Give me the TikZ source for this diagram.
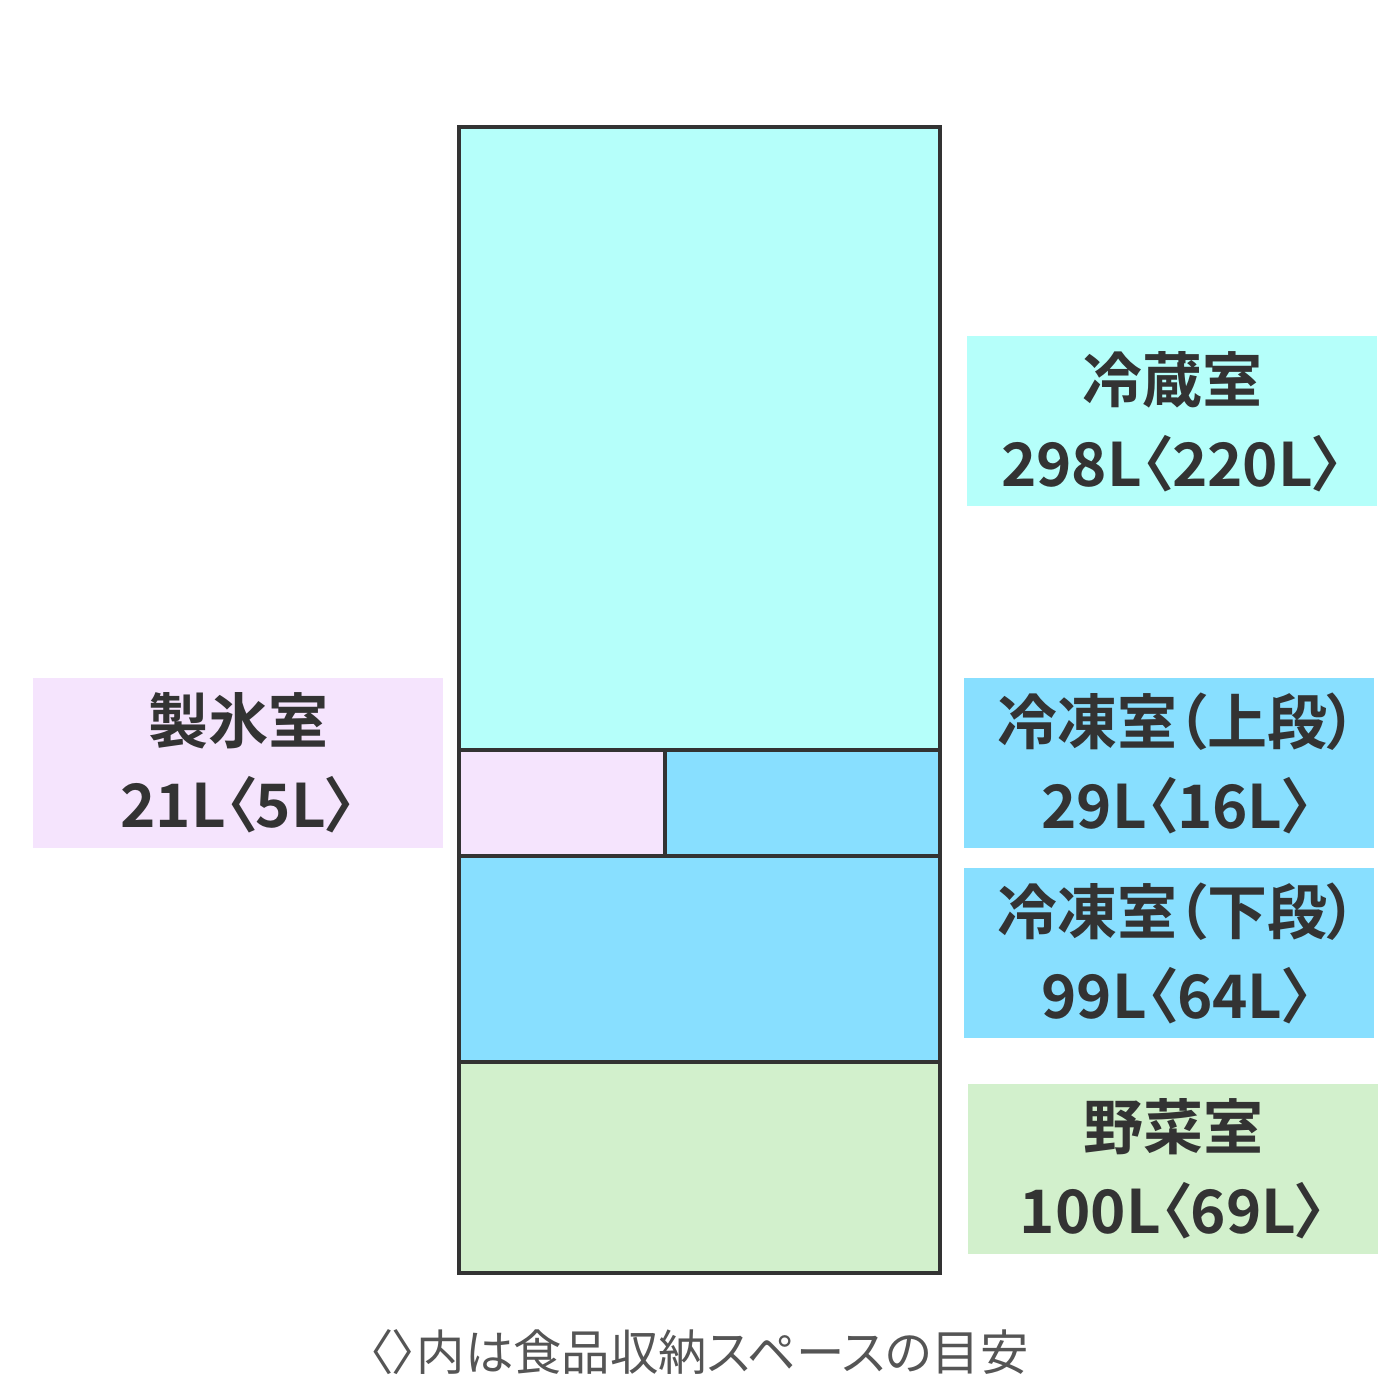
\documentclass[tikz,border=0pt]{standalone}
\usepackage{fontspec}
\setmainfont{Noto Sans CJK JP}[BoldFont={Noto Sans CJK JP Bold},RawFeature=+palt]
\definecolor{fridge}{HTML}{B5FFFA}
\definecolor{ice}{HTML}{F5E4FD}
\definecolor{freezer}{HTML}{88DFFF}
\definecolor{veg}{HTML}{D2F0CC}
\definecolor{ink}{HTML}{333333}
\definecolor{note}{HTML}{555555}
\begin{document}
\begin{tikzpicture}[x=0.5pt,y=-0.5pt,
  frame/.style={draw=ink,line width=2.2pt},
  labelbox/.style={draw=none,inner sep=0pt,minimum width=205pt,minimum height=85pt,align=center,text=ink,
    font=\bfseries\fontsize{30pt}{42pt}\selectfont},
]
\useasboundingbox (0,0) rectangle (1400,1400);
\fill[white] (0,0) rectangle (1400,1400);
% compartments
\fill[fridge] (459,127) rectangle (940,750);
\fill[ice] (459,750) rectangle (665,856);
\fill[freezer] (665,750) rectangle (940,856);
\fill[freezer] (459,856) rectangle (940,1062);
\fill[veg] (459,1062) rectangle (940,1273);
\draw[frame] (459,127) rectangle (940,1273);
\draw[frame] (459,750) -- (940,750);
\draw[frame] (459,856) -- (940,856);
\draw[frame] (459,1062) -- (940,1062);
\draw[frame] (665,750) -- (665,856);
% labels
\node[labelbox,fill=fridge] (reizo) at (1172,421.5) {冷蔵室\\298L〈220L〉};
\node[labelbox,fill=ice] (seihyo) at (238,763) {製氷室\\21L〈5L〉};
\node[labelbox,fill=freezer] (reitoA) at (1169,763) {\hspace*{8pt}冷凍室（上段）\\\hspace*{8pt}29L〈16L〉};
\node[labelbox,fill=freezer] (reitoB) at (1169,953) {\hspace*{8pt}冷凍室（下段）\\\hspace*{8pt}99L〈64L〉};
\node[labelbox,fill=veg] (yasai) at (1173,1168.5) {野菜室\\100L〈69L〉};
\node[text=note,font=\fontsize{24.2pt}{28pt}\selectfont,inner sep=0pt] (note) at (698.5,1352) {〈〉内は食品収納スペースの目安};
\end{tikzpicture}
\end{document}
